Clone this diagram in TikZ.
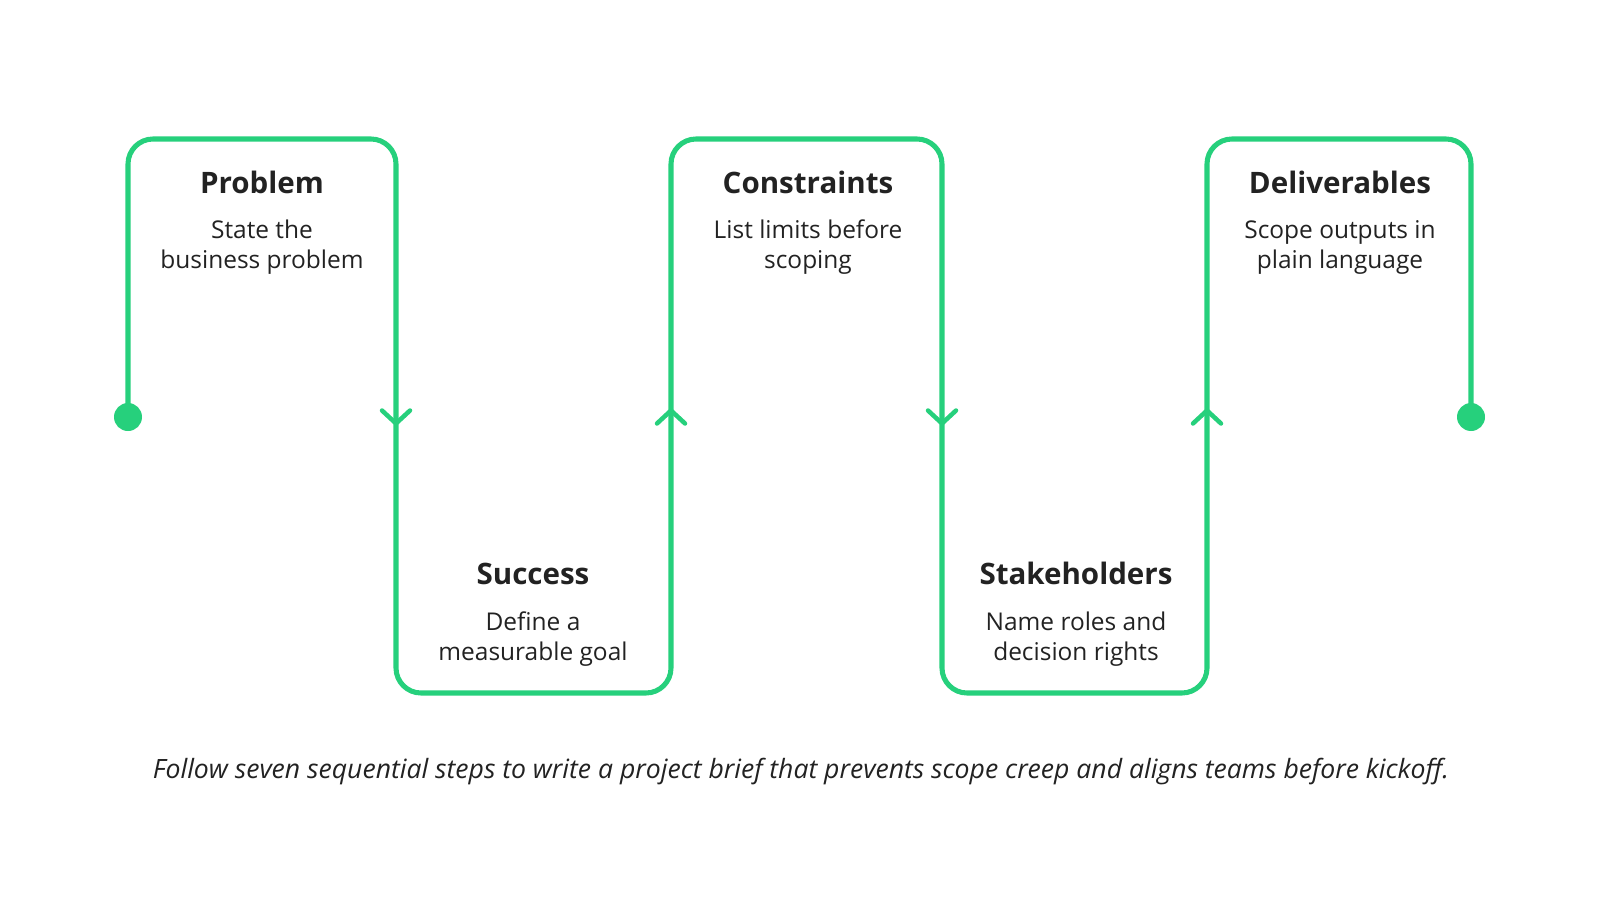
\documentclass[tikz,border=0pt]{standalone}
\usepackage{fontspec}
\setmainfont{Open Sans}
\usetikzlibrary{positioning}
\definecolor{briefgreen}{RGB}{38,208,124}
\definecolor{inkgray}{RGB}{34,34,34}
\tikzset{
  lane/.style={line width=3.6pt, briefgreen, rounded corners=17.8pt, line cap=round, line join=round},
  chevron/.style={line width=3.2pt, briefgreen, line cap=round, line join=round},
  stepname/.style={anchor=base, font=\fontsize{21}{25}\selectfont\bfseries, text=inkgray},
  stepdesc/.style={anchor=base, align=center, font=\fontsize{17.4}{21.3}\selectfont, text=inkgray},
  caption/.style={anchor=base, font=\fontsize{18.9}{22}\selectfont\itshape, text=inkgray},
}
\begin{document}
\begin{tikzpicture}[x=0.025cm, y=-0.025cm]
    \useasboundingbox (0,0) rectangle (1600,900);
    % ends of the lane
    \coordinate (start) at (128,417);
    \coordinate (finish) at (1471,417);
    \draw[lane] (start) -- (128,139) -- (396,139) -- (396,693) -- (671,693)
                -- (671,139) -- (942,139) -- (942,693) -- (1207,693)
                -- (1207,139) -- (1471,139) -- (finish);
    \fill[briefgreen] (start) circle (14) (finish) circle (14);
    % direction marks, 1 = down, -1 = up
    \foreach \x/\d in {396/1, 671/-1, 942/1, 1207/-1}
        \draw[chevron] (\x-14,417-6.5*\d) -- (\x,417+6.5*\d) -- (\x+14,417-6.5*\d);
    % steps (base of a two-line text is its last line)
    \node[stepname] (problem) at (262,193) {Problem};
    \node[stepdesc] (problem-d) at (262,268) {State the\\business problem};
    \node[stepname] (success) at (533,584) {Success};
    \node[stepdesc] (success-d) at (533,660) {Define a\\measurable goal};
    \node[stepname] (constraints) at (808,193) {Constraints};
    \node[stepdesc] (constraints-d) at (808,268) {List limits before\\scoping};
    \node[stepname] (stakeholders) at (1076,584) {Stakeholders};
    \node[stepdesc] (stakeholders-d) at (1076,660) {Name roles and\\decision rights};
    \node[stepname] (deliverables) at (1340,193) {Deliverables};
    \node[stepdesc] (deliverables-d) at (1340,268) {Scope outputs in\\plain language};
    \node[caption] (note) at (801,778) {Follow seven sequential steps to write a project brief that prevents scope creep and aligns teams before kickoff.};
\end{tikzpicture}
\end{document}
